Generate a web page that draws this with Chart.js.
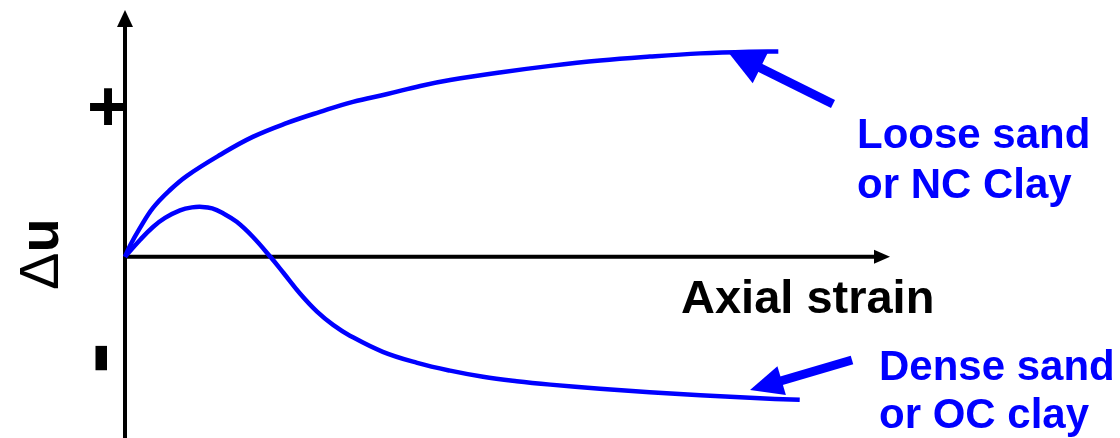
<!DOCTYPE html>
<html>
<head>
<meta charset="utf-8">
<script src="https://cdn.jsdelivr.net/npm/chart.js@4.4.1/dist/chart.umd.min.js"></script>
<style>
  html, body { margin: 0; padding: 0; background: #fff; }
  #wrap { width: 1120px; height: 438px; }
</style>
</head>
<body>
<div id="wrap"><canvas id="duChart" width="1120" height="438"></canvas></div>
<script>
// axial strain (arbitrary units) vs excess pore pressure (arbitrary units)
const looseStrain = [0, 0.65, 1.96, 3.66, 5.88, 8.10, 12.4, 16.7, 21.2, 25.5, 29.8, 34.3, 38.6, 42.5, 49.0, 55.6, 62.1, 68.6, 75.2, 81.7, 85.4];
const looseDu     = [0, 4.5, 11.8, 20.0, 27.3, 33.1, 41.6, 49.0, 54.7, 59.2, 63.3, 66.5, 69.8, 72.2, 75.3, 78.0, 80.2, 81.8, 83.1, 83.8, 83.9];

const denseStrain = [0, 1.96, 3.66, 5.23, 7.19, 8.76, 10.1, 11.4, 12.7, 14.6, 16.7, 19.0, 20.7, 22.9, 25.1, 27.2, 29.4, 33.7, 38.2, 42.5, 46.8, 51.2, 55.6, 62.1, 68.6, 75.2, 81.7, 88.2];
const denseDu     = [0, 6.9, 12.2, 15.9, 19.0, 20.2, 20.4, 19.8, 18.0, 14.3, 8.2, 0, -6.5, -15.1, -22.4, -27.8, -32.2, -38.8, -43.3, -46.5, -49.0, -50.8, -52.2, -53.9, -55.3, -56.5, -57.6, -58.4];

const BLUE = '#0000FF';
const FONT = '"Liberation Sans", Arial, sans-serif';

const toPoints = (xs, ys) => xs.map((x, i) => ({ x: x, y: ys[i] }));

// axes with arrow heads, drawn under the curves
const axesPlugin = {
    id: 'axes',
    beforeDatasetsDraw(chart) {
        const c = chart.ctx;
        const x0 = chart.scales.x.getPixelForValue(0);
        const y0 = chart.scales.y.getPixelForValue(0);
        const a = chart.chartArea;
        c.save();
        c.strokeStyle = '#000';
        c.fillStyle = '#000';
        c.lineWidth = 4;
        c.beginPath();
        c.moveTo(x0, 438);
        c.lineTo(x0, a.top + 14);
        c.moveTo(x0, y0);
        c.lineTo(a.right - 14, y0);
        c.stroke();
        c.beginPath();
        c.moveTo(x0, a.top - 2);
        c.lineTo(x0 - 8, a.top + 15);
        c.lineTo(x0 + 8, a.top + 15);
        c.closePath();
        c.fill();
        c.beginPath();
        c.moveTo(a.right, y0);
        c.lineTo(a.right - 16, y0 - 7);
        c.lineTo(a.right - 16, y0 + 7);
        c.closePath();
        c.fill();
        c.restore();
    }
};

function arrow(c, tx, ty, hx, hy, headLen, headHalf, shaft) {
    const dx = hx - tx, dy = hy - ty;
    const len = Math.hypot(dx, dy);
    const ux = dx / len, uy = dy / len;
    const bx = hx - ux * headLen, by = hy - uy * headLen;
    c.lineWidth = shaft;
    c.beginPath();
    c.moveTo(tx, ty);
    c.lineTo(bx + ux * 2, by + uy * 2);
    c.stroke();
    c.beginPath();
    c.moveTo(hx, hy);
    c.lineTo(bx - uy * headHalf, by + ux * headHalf);
    c.lineTo(bx + uy * headHalf, by - ux * headHalf);
    c.closePath();
    c.fill();
}

const labelsPlugin = {
    id: 'labels',
    afterDraw(chart) {
        const c = chart.ctx;
        c.save();
        // blue pointer arrows
        c.strokeStyle = BLUE;
        c.fillStyle = BLUE;
        arrow(c, 833, 104, 728, 52, 36, 17, 9);
        arrow(c, 852, 360, 750, 390, 33, 15, 9);

        c.textAlign = 'left';
        c.textBaseline = 'alphabetic';
        c.font = 'bold 42px ' + FONT;
        c.fillText('Loose sand', 857, 148);
        c.fillText('or NC Clay', 857, 198);
        c.fillText('Dense sand', 879, 380);
        c.fillText('or OC clay', 879, 428);

        c.fillStyle = '#000';
        c.font = 'bold 47px ' + FONT;
        c.fillText('Axial strain', 681, 313);

        c.textAlign = 'center';
        c.font = 'bold 72px ' + FONT;
        c.fillText('+', 108, 131);

        // rotated axis title and minus sign
        c.save();
        c.translate(58, 290);
        c.rotate(-Math.PI / 2);
        c.textAlign = 'left';
        c.font = '56px ' + FONT;
        c.fillText('\u0394', 0, 0);
        const w = c.measureText('\u0394').width;
        c.font = 'bold 56px ' + FONT;
        c.fillText('u', w, 0);
        c.restore();

        c.save();
        c.translate(100, 358);
        c.rotate(-Math.PI / 2);
        c.textAlign = 'center';
        c.textBaseline = 'middle';
        c.font = 'bold 96px ' + FONT;
        c.fillText('-', 0, 0);
        c.restore();

        c.restore();
    }
};

new Chart(document.getElementById('duChart').getContext('2d'), {
    type: 'line',
    data: {
        datasets: [
            {
                label: 'Loose sand or NC Clay',
                data: toPoints(looseStrain, looseDu),
                borderColor: BLUE,
                borderWidth: 4.5,
                pointRadius: 0,
                tension: 0.4,
                fill: false,
                clip: false
            },
            {
                label: 'Dense sand or OC clay',
                data: toPoints(denseStrain, denseDu),
                borderColor: BLUE,
                borderWidth: 4.5,
                pointRadius: 0,
                tension: 0.4,
                fill: false,
                clip: false
            }
        ]
    },
    options: {
        responsive: false,
        animation: false,
        layout: { padding: { left: 125, right: 230, top: 12, bottom: 0 } },
        plugins: {
            legend: { display: false },
            tooltip: { enabled: false }
        },
        scales: {
            x: { type: 'linear', min: 0, max: 100, display: false },
            y: { type: 'linear', min: -74, max: 100, display: false }
        }
    },
    plugins: [axesPlugin, labelsPlugin]
});
</script>
</body>
</html>
